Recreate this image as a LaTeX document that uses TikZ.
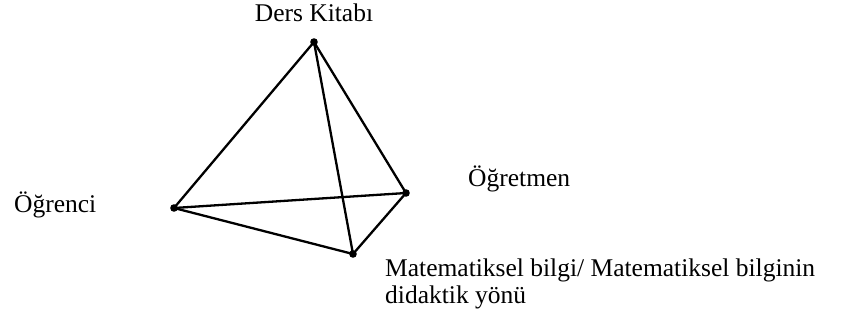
\documentclass[tikz,border=0pt]{standalone}
\usepackage{fontspec}
\setmainfont{Liberation Serif}
\usetikzlibrary{positioning}

\begin{document}
\begin{tikzpicture}[x=1pt, y=-1pt,
		edge/.style={line width=2.3pt, line join=round},
		vertex/.style={black},
		lbl/.style={font=\fontsize{25.5}{26.5}\selectfont, inner sep=0pt}]
		
		% 0. sayfa boyutu
		\useasboundingbox (0,0) rectangle (843,323);
		
		% 1. köşeler
		\coordinate (Kitap) at (314, 42);     % Ders Kitabı
		\coordinate (Ogrenci) at (174, 208);  % Öğrenci
		\coordinate (Ogretmen) at (406, 193); % Öğretmen
		\coordinate (Bilgi) at (353, 254);    % Matematiksel bilgi
		
		% 2. kenarlar
		\draw[edge] (Kitap) -- (Ogrenci);
		\draw[edge] (Kitap) -- (Ogretmen);
		\draw[edge] (Kitap) -- (Bilgi);
		\draw[edge] (Ogrenci) -- (Ogretmen);
		\draw[edge] (Ogrenci) -- (Bilgi);
		\draw[edge] (Ogretmen) -- (Bilgi);
		
		% 3. noktalar
		\fill[vertex] (Kitap) circle (3.8);
		\fill[vertex] (Ogrenci) circle (3.8);
		\fill[vertex] (Ogretmen) circle (3.8);
		\fill[vertex] (Bilgi) circle (3.8);
		
		% 4. etiketler
		\node[lbl, anchor=base] (kitapLbl) at (314, 22) {Ders Kitabı};
		\node[lbl, anchor=base west] (ogrenciLbl) at (14, 212) {Öğrenci};
		\node[lbl, anchor=base west] (ogretmenLbl) at (468, 186) {Öğretmen};
		\node[lbl, anchor=base west, align=left] (bilgiLbl) at (385, 303)
		{Matematiksel bilgi/ Matematiksel bilginin\\didaktik yönü};
		
	\end{tikzpicture}
\end{document}
